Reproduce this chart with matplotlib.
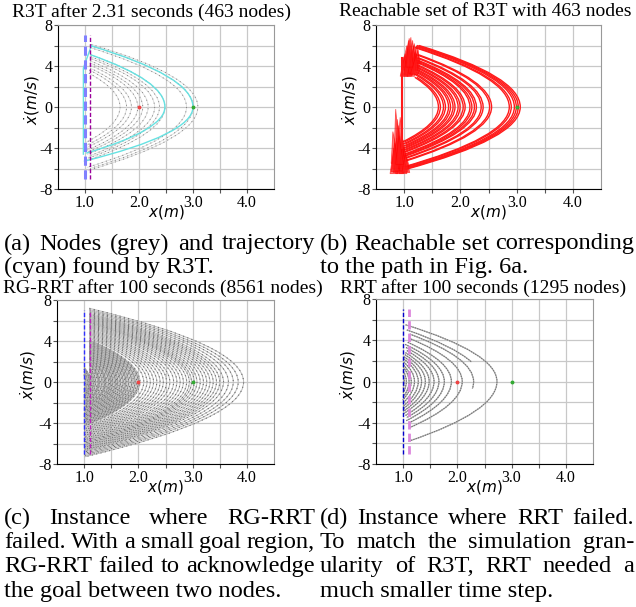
import numpy as np
import matplotlib
matplotlib.use('Agg')
import matplotlib.pyplot as plt
from matplotlib.path import Path
from matplotlib.patches import PathPatch, Polygon

plt.rcParams['font.family'] = ['Liberation Serif', 'DejaVu Serif']
plt.rcParams['mathtext.fontset'] = 'dejavusans'
plt.rcParams['axes.unicode_minus'] = False

W, H = 636, 607

titles = ['R3T after 2.31 seconds (463 nodes)', 'Reachable set of R3T with 463 nodes',
          'RG-RRT after 100 seconds (8561 nodes)', 'RRT after 100 seconds (1295 nodes)']
x_ticks = [1.0, 1.5, 2.0, 2.5, 3.0, 3.5, 4.0]
x_ticklabels = ['1.0', '', '2.0', '', '3.0', '', '4.0']
y_ticks = [-8, -6, -4, -2, 0, 2, 4, 6, 8]
y_ticklabels = ['-8', '', '-4', '', '0', '', '4', '', '8']
start_pt = (2.0, 0.0)
goal_pt = (3.0, 0.0)
wall_x = 1.0
goal_x = 1.1
wall_v = (-7.0, 7.0)

# (a) R3T nodes: parabolic arcs, apex position and end velocities
a_apex = [1.65, 1.77, 1.86, 1.98, 2.07, 2.17, 2.29, 2.38, 2.48, 2.88, 3.00, 3.09]
a_vtop = [3.3, 3.6, 3.8, 4.1, 4.3, 4.5, 4.7, 4.9, 5.1, 5.8, 6.0, 6.1]
a_vbot = [-3.5, -3.8, -4.0, -4.2, -4.4, -4.6, -4.8, -5.0, -5.2, -5.9, -6.0, -6.2]
# cyan trajectory
cyan_apex = [2.48, 3.00]
cyan_vtop = [5.1, 6.0]
cyan_vbot = [-4.5, -5.3]
cyan_link_x = [0.97, 0.97, 1.12]
cyan_link_v = [-4.6, 3.8, 6.0]

# (b) reachable sets
b_apex = [1.61, 1.70, 1.79, 1.87, 1.96, 2.05, 2.17, 2.25, 2.37, 2.52, 2.87, 2.96, 3.03]
b_vtop = [2.9, 3.2, 3.4, 3.7, 3.9, 4.1, 4.4, 4.6, 4.8, 5.1, 5.8, 5.9, 6.0]
b_vbot = [-3.4, -3.6, -3.8, -4.0, -4.2, -4.4, -4.6, -4.8, -5.0, -5.3, -5.9, -6.0, -6.1]
# spikes (base x, base v, tip x, tip v)
b_top_spikes = [(1.02, 3.6, 1.05, 6.0), (1.06, 3.8, 1.08, 6.5), (1.10, 3.4, 1.12, 6.8),
                (1.14, 3.6, 1.15, 6.5), (1.18, 3.8, 1.18, 6.2), (1.22, 4.2, 1.22, 6.0),
                (1.00, 3.0, 1.02, 5.2), (1.08, 3.1, 1.10, 5.6), (1.16, 3.2, 1.20, 5.4),
                (1.20, 3.5, 1.25, 5.6), (1.12, 3.0, 1.14, 4.8), (1.04, 3.2, 0.99, 4.9),
                (1.06, 3.0, 1.07, 5.9), (1.14, 3.3, 1.17, 6.0), (1.10, 3.9, 1.09, 6.7),
                (1.18, 3.2, 1.22, 5.2)]
b_bot_spikes = [(0.88, -6.4, 0.85, -0.2), (0.84, -5.5, 0.80, -2.4), (0.92, -6.5, 0.90, -1.8),
                (0.96, -6.0, 0.95, -2.5), (1.00, -6.3, 0.98, -3.2), (0.86, -6.0, 0.87, -3.0),
                (0.94, -5.0, 0.93, -1.0), (1.02, -5.8, 1.00, -4.0), (0.82, -6.5, 0.82, -4.0),
                (0.90, -6.2, 0.88, -1.2), (0.98, -6.5, 0.96, -3.8), (0.84, -6.3, 0.83, -3.5),
                (0.92, -5.6, 0.91, -2.8), (1.03, -6.4, 1.02, -4.6)]
b_line_v = [-4.0, 4.8]

# (c) RG-RRT nodes
c_apex = [1.15, 1.19, 1.24, 1.30, 1.36, 1.42, 1.47, 1.51, 1.56, 1.60, 1.65, 1.70, 1.75, 1.79,
          1.85, 1.91, 1.97, 2.03, 2.10, 2.16, 2.22, 2.28, 2.34, 2.40, 2.46, 2.52, 2.58, 2.65,
          2.71, 2.77, 2.83, 2.89, 2.94, 2.98, 3.03, 3.08, 3.14, 3.20, 3.26, 3.32, 3.38, 3.44,
          3.50, 3.57, 3.66, 3.75, 3.84, 3.94]
c_vtop = [0.95, 1.28, 1.60, 1.91, 2.17, 2.41, 2.59, 2.73, 2.89, 3.02, 3.16, 3.30, 3.44, 3.54,
          3.69, 3.84, 3.98, 4.11, 4.26, 4.39, 4.51, 4.63, 4.75, 4.86, 4.97, 5.08, 5.19, 5.31,
          5.41, 5.51, 5.61, 5.70, 5.78, 5.85, 5.92, 6.00, 6.09, 6.18, 6.27, 6.35, 6.44, 6.52,
          6.61, 6.70, 6.82, 6.94, 7.06, 7.19]
c_vbot = [-1.65, -1.86, -2.09, -2.34, -2.56, -2.76, -2.92, -3.04, -3.19, -3.30, -3.44, -3.57,
          -3.69, -3.79, -3.93, -4.07, -4.20, -4.33, -4.47, -4.59, -4.71, -4.82, -4.94, -5.05,
          -5.15, -5.26, -5.36, -5.48, -5.58, -5.67, -5.77, -5.86, -5.94, -6.00, -6.08, -6.15,
          -6.24, -6.32, -6.41, -6.49, -6.58, -6.66, -6.74, -6.84, -6.95, -7.07, -7.19, -7.31]
# extra nodes packed near the start (dense cloud)
c_dense_apex = [1.03, 1.06, 1.09, 1.11, 1.13, 1.17, 1.21, 1.26, 1.28, 1.33, 1.38, 1.40, 1.45,
                1.49, 1.53, 1.58, 1.62, 1.67, 1.72, 1.77, 1.82, 1.88, 1.94, 2.00]
c_dense_vtop = [0.74, 1.04, 1.28, 1.41, 0.74, 1.13, 1.41, 1.71, 1.81, 2.04, 2.26, 2.34, 2.52,
                2.66, 2.80, 2.95, 3.07, 3.22, 3.36, 3.49, 3.62, 3.77, 3.91, 4.05]
c_dense_vbot = [-0.74, -1.04, -1.28, -1.41, -1.54, -1.76, -1.95, -2.17, -2.26, -2.45, -2.63,
                -2.70, -2.86, -2.98, -3.10, -3.25, -3.36, -3.49, -3.62, -3.74, -3.86, -4.00,
                -4.13, -4.26]

# (d) RRT nodes
d_apex = [1.02, 1.06, 1.11, 1.15, 1.21, 1.28, 1.34, 1.41, 1.48, 1.57, 1.66, 1.76, 1.89,
          2.09, 2.30, 2.46, 2.73]
d_vtop = [0.6, 1.0, 1.4, 1.6, 1.9, 2.2, 2.4, 2.6, 2.8, 3.0, 3.3, 3.6, 3.8, 4.2, 4.6, 5.0, 5.5]
d_vbot = [-0.6, -1.1, -1.5, -1.8, -2.1, -2.4, -2.6, -2.9, -3.1, -3.3, -3.5, -3.8, -4.0,
          -4.5, -0.7, 1.9, -5.8]

captions = {
    'a': [('(a) Nodes (grey) and trajectory', True), ('(cyan) found by R3T.', False)],
    'b': [('(b) Reachable set corresponding', True), ('to the path in Fig. 6a.', False)],
    'c': [('(c) Instance where RG-RRT', True), ('failed. With a small goal region,', True),
          ('RG-RRT failed to acknowledge', True), ('the goal between two nodes.', False)],
    'd': [('(d) Instance where RRT failed.', True), ('To match the simulation gran-', True),
          ('ularity of R3T, RRT needed a', True), ('much smaller time step.', False)],
}


def seg(apex, k, v1, v2):
    return [(apex - k * v1 * v1, v1), (apex - k * v1 * v2, (v1 + v2) / 2), (apex - k * v2 * v2, v2)]


def arc_path(apex, v_top, v_bot, k_up, k_dn):
    # x = apex - k v^2, drawn as quadratic beziers
    verts, codes = [], []
    if v_top > 0:
        p = seg(apex, k_up, v_top, max(v_bot, 0))
        verts += p
        codes += [Path.MOVETO, Path.CURVE3, Path.CURVE3]
    if v_bot < 0:
        p = seg(apex, k_dn, min(v_top, 0), v_bot)
        if not verts:
            verts.append(p[0])
            codes.append(Path.MOVETO)
        verts += p[1:]
        codes += [Path.CURVE3, Path.CURVE3]
    return Path(verts, codes)


def draw_arcs(ax, apex, vtop, vbot, k_up, k_dn, base, dots, lw=0.6, dash=(0, (1, 3)), dlw=0.8):
    for A, vt, vb in zip(apex, vtop, vbot):
        ax.add_patch(PathPatch(arc_path(A, vt, vb, k_up, k_dn), fill=False, ec=base, lw=lw, zorder=2))
        if dots:
            ax.add_patch(PathPatch(arc_path(A, vt, vb, k_up, k_dn), fill=False, ec=dots, lw=dlw,
                                   linestyle=dash, zorder=2))


def setup(ax, ylab_x):
    ax.set_xlim(0.5, 4.5)
    ax.set_ylim(-8, 8)
    ax.set_xticks(x_ticks)
    ax.set_xticklabels(x_ticklabels)
    ax.set_yticks(y_ticks)
    ax.set_yticklabels(y_ticklabels)
    ax.tick_params(labelsize=11.5, length=3, pad=1, color='#555555')
    ax.grid(True, color='#c8c8c8', lw=0.9)
    ax.set_axisbelow(True)
    for s in ['top', 'right']:
        ax.spines[s].set_color('#999999')
    ax.set_xlabel('$x(m)$', fontsize=11)
    ax.xaxis.set_label_coords(0.5, -0.085)
    ax.set_ylabel(r'$\dot{x}(m/s)$', fontsize=11)
    ax.yaxis.label.set_verticalalignment('center')
    ax.yaxis.set_label_coords(ylab_x, 0.54)


def walls(ax, c1, lw1, c2, lw2):
    ax.plot([wall_x, wall_x], wall_v, color=c1, lw=lw1, ls='--', dashes=(3, 1.5), zorder=4)
    ax.plot([goal_x, goal_x], wall_v, color=c2, lw=lw2, ls='--', dashes=(3, 1.5), zorder=4)


def points(ax):
    ax.plot(*start_pt, 'o', ms=1.8, color='#ee4444', zorder=5)
    ax.plot(*goal_pt, 'o', ms=1.8, color='#33aa33', zorder=5)


fig = plt.figure(figsize=(W / 100, H / 100), dpi=100)


def px_axes(l, t, r, b):
    return fig.add_axes([l / W, 1 - b / H, (r - l) / W, (b - t) / H])


ax_a = px_axes(58, 25, 274, 189)
ax_b = px_axes(376, 25, 601, 189)
ax_c = px_axes(57, 300, 274, 464)
ax_d = px_axes(376, 299, 593, 464)
for ax, lx in zip([ax_a, ax_b, ax_c, ax_d], [-0.12, -0.116, -0.134, -0.129]):
    setup(ax, lx)

# (a)
draw_arcs(ax_a, a_apex, a_vtop, a_vbot, 0.053, 0.053, '#dadada', '#808080', dash=(0, (1, 3.5)), dlw=0.7)
for A, vt, vb in zip(cyan_apex, cyan_vtop, cyan_vbot):
    ax_a.add_patch(PathPatch(arc_path(A, vt, vb, 0.053, 0.072), fill=False, ec='#66e2e2', lw=1.0, zorder=3))
ax_a.plot(cyan_link_x, cyan_link_v, color='#66e2e2', lw=1.0, zorder=3)
walls(ax_a, '#8080ff', 2.2, '#990099', 1.0)
points(ax_a)

# (b)
for off in [0.0, 0.035]:
    draw_arcs(ax_b, [A + off for A in b_apex], b_vtop, b_vbot, 0.05, 0.055, '#ff1a1a', None, lw=1.0)
for bx, bv, tx, tv in b_top_spikes + b_bot_spikes:
    ax_b.add_patch(Polygon([(bx - 0.07, bv), (bx + 0.07, bv), (tx, tv)], closed=True,
                           fc='#ff1a1a', ec='#ff0000', lw=0.6, alpha=0.6, zorder=3))
ax_b.plot([0.97, 0.97], b_line_v, color='#ff1a1a', lw=1.5, zorder=3)
ax_b.plot(*goal_pt, 'o', ms=1.8, color='#33aa33', zorder=5)

# (c)
draw_arcs(ax_c, c_dense_apex, c_dense_vtop, c_dense_vbot, 0.055, 0.055, '#a2a2a2', '#787878', lw=1.1)
draw_arcs(ax_c, c_apex, c_vtop, c_vbot, 0.055, 0.055, '#bababa', '#6e6e6e', lw=0.7)
walls(ax_c, '#3030ff', 1.0, '#bb22bb', 1.0)
points(ax_c)

# (d)
draw_arcs(ax_d, d_apex, d_vtop, d_vbot, 0.0557, 0.0485, '#aaaaaa', '#707070', lw=0.9, dash=(0, (1, 1.2)))
walls(ax_d, '#0000cc', 1.0, '#dd88dd', 2.0)
points(ax_d)

# titles
for (cx, cy), t in zip([(151, 12), (485, 12), (163, 288), (483, 288)], titles):
    fig.text(cx / W, 1 - cy / H, t, ha='center', va='center', fontsize=14)

# captions, justified like the paper
renderer = fig.canvas.get_renderer()


def caption(lines, x0, x1, y0, dy, size=17.6):
    for i, (line, justify) in enumerate(lines):
        y = 1 - (y0 + i * dy) / H
        if not justify:
            fig.text(x0 / W, y, line, ha='left', va='center', fontsize=size)
            continue
        words = line.split()
        texts = [fig.text(0, y, w, ha='left', va='center', fontsize=size) for w in words]
        widths = [t.get_window_extent(renderer).width for t in texts]
        gap = (x1 - x0 - sum(widths)) / (len(words) - 1)
        x = x0
        for t, w in zip(texts, widths):
            t.set_x(x / W)
            x += w + gap


caption(captions['a'], 4, 315, 244, 23.5)
caption(captions['b'], 320, 634, 244, 23.5)
caption(captions['c'], 4, 315, 518, 24.4)
caption(captions['d'], 320, 634, 518, 24.4)

fig.savefig('out.png', dpi=100)
